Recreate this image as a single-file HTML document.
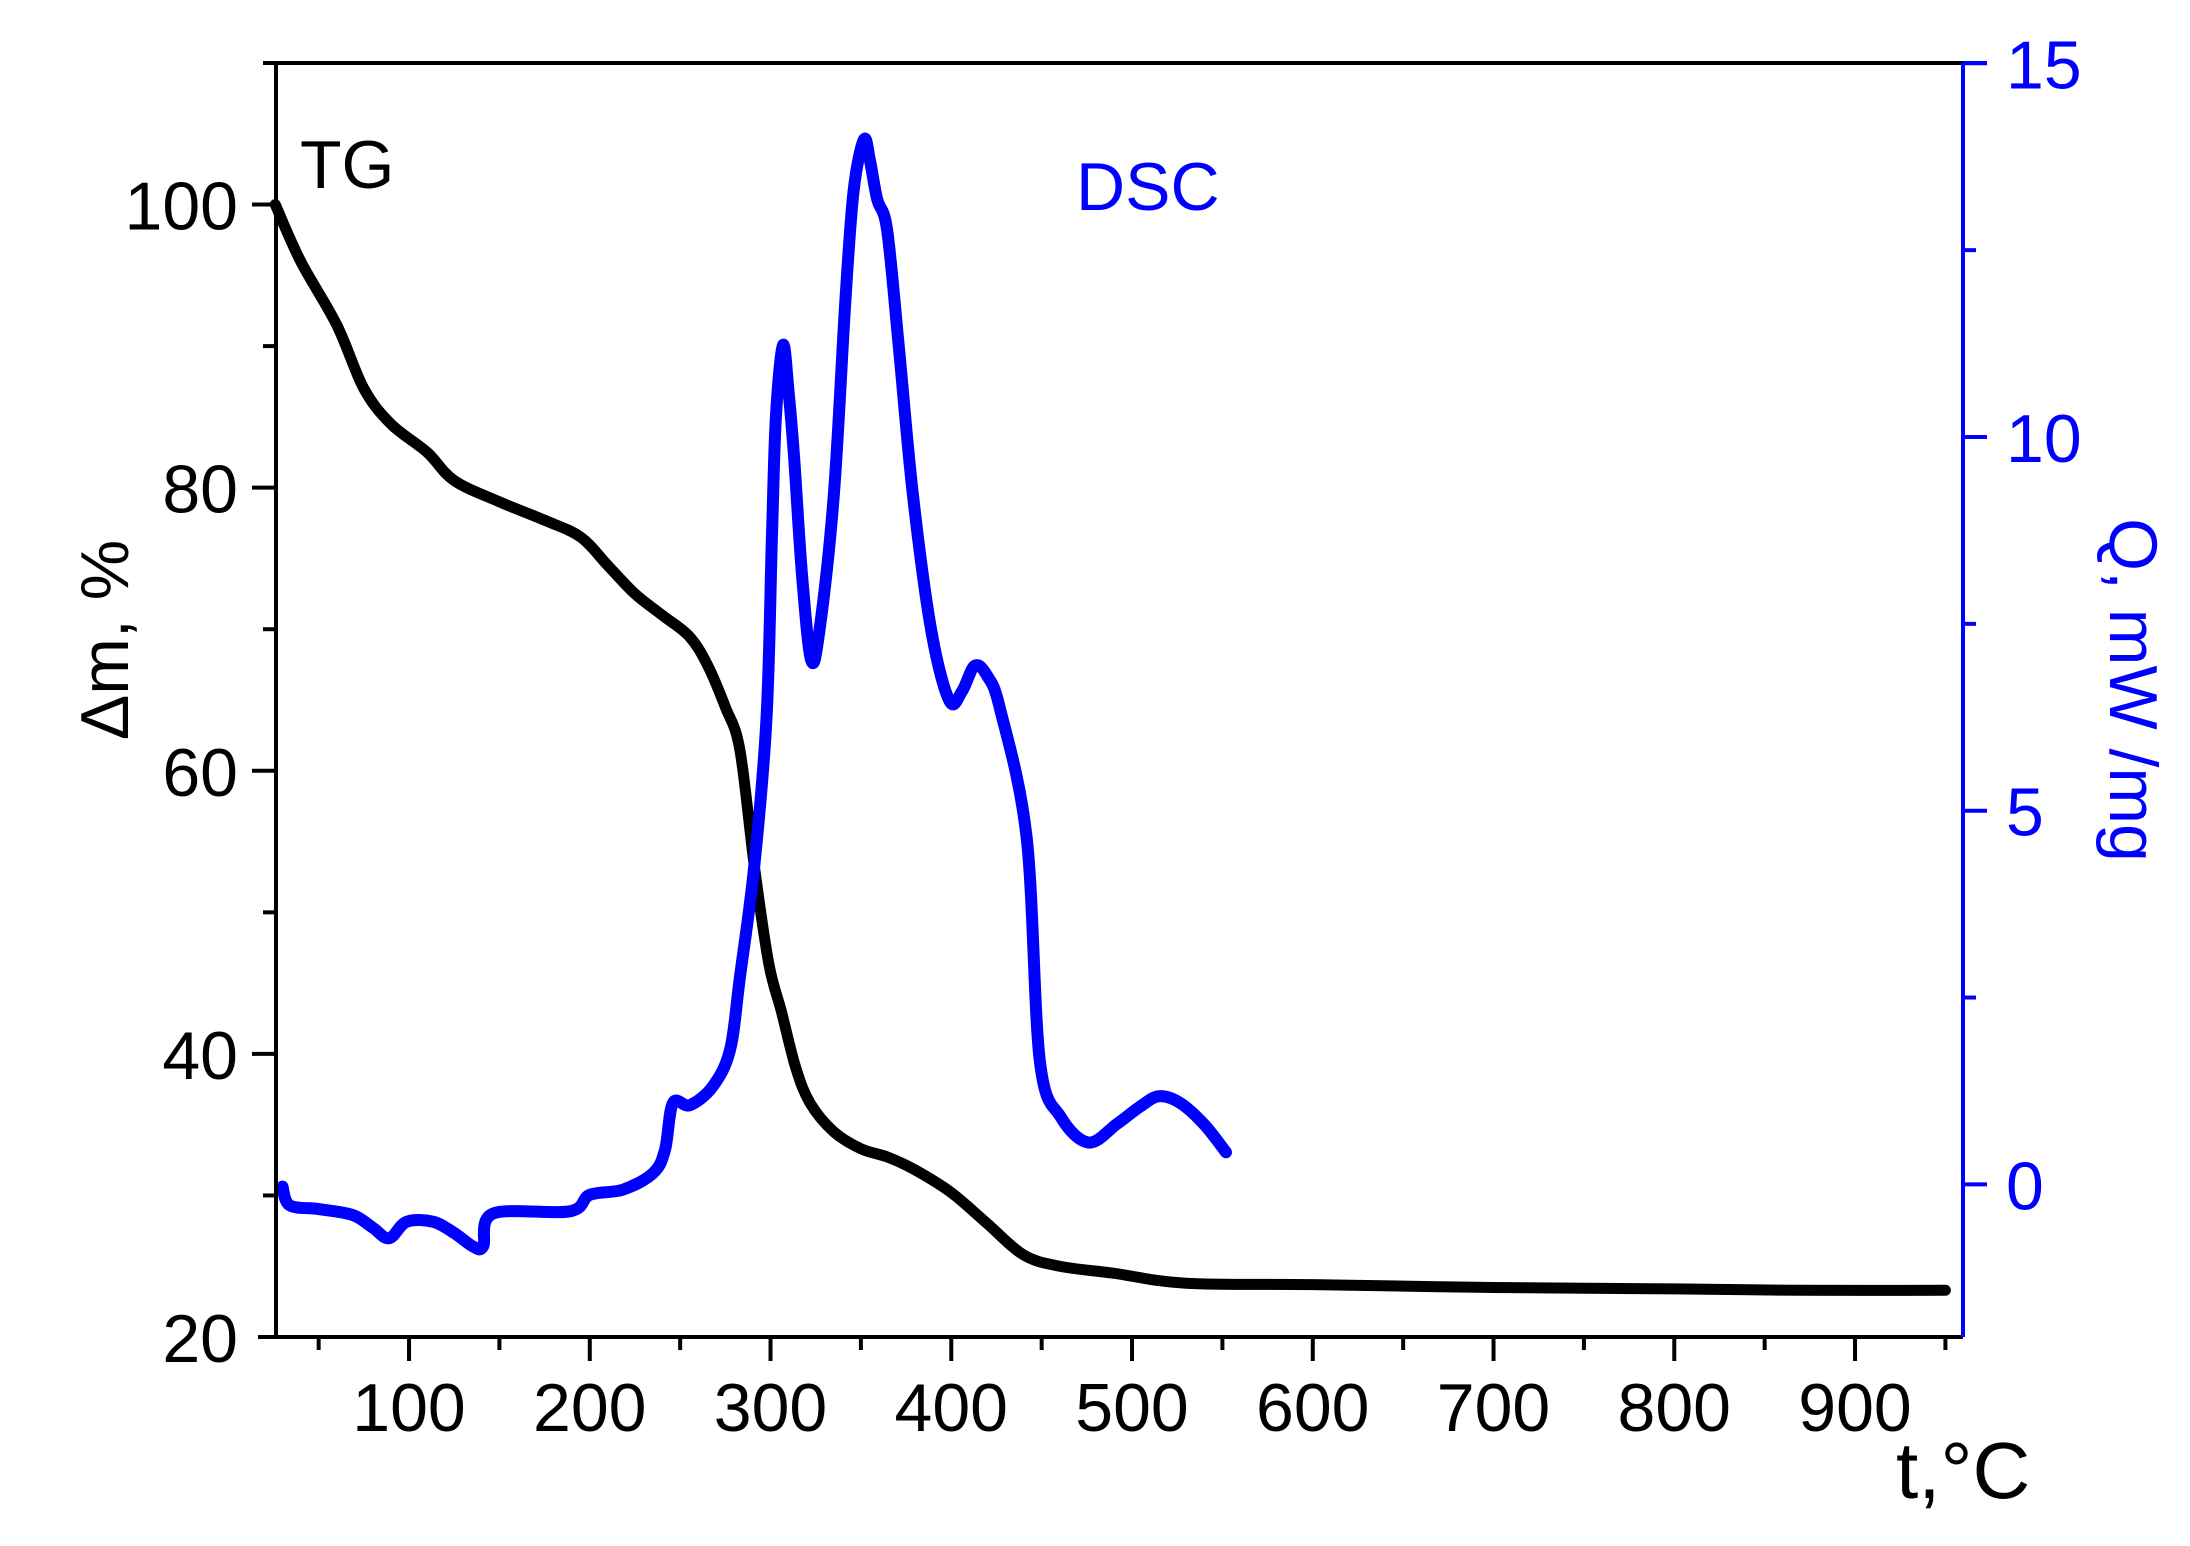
<!DOCTYPE html>
<html><head><meta charset="utf-8"><style>
html,body{margin:0;padding:0;background:#fff;}
svg{display:block;font-family:"Liberation Sans",Arial,sans-serif;}
</style></head><body>
<svg id="chart" width="2190" height="1546" viewBox="0 0 2190 1546" xmlns="http://www.w3.org/2000/svg">
<rect width="2190" height="1546" fill="#fff"/>
<g id="marks"></g>
<g id="axes"></g>
<text x="300" y="188" font-size="68" fill="#000">TG</text>
<text x="1076" y="210" font-size="68" fill="#0000ff">DSC</text>
<text x="1896" y="1498" font-size="80" fill="#000">t,°C</text>
<text transform="translate(128,640) rotate(-90)" text-anchor="middle" font-size="68" fill="#000">Δm, %</text>
<text transform="translate(2110,690) rotate(90)" text-anchor="middle" font-size="68" fill="#0000ff">Q, mW /mg</text>
</svg>
<script>
const xTicks = [100,200,300,400,500,600,700,800,900];
const leftTicks = [20,40,60,80,100];
const rightTicks = [0,5,10,15];
const tgT = [26,40,60,75,90,110,125,150,175,195,210,225,240,255,265,275,283,291,299,306,314,322,335,350,365,380,400,420,440,460,490,530,600,700,800,870,950];
const tgM = [100,96,91.5,87,84.5,82.5,80.5,79,77.7,76.5,74.5,72.5,71,69.5,67.5,64.5,61.5,53.3,46.4,43,39,36.5,34.5,33.3,32.7,31.8,30.2,28,25.8,25,24.5,23.8,23.7,23.5,23.4,23.3,23.3];
const dscT = [30,34,50,68.9,80,89,98.7,113.3,125,135.4,141,146.5,189,200,218.4,235,241.6,246,255.4,268,277.6,283,291,297.8,300.8,303,306.9,310,313,317.4,322.4,327,335,341.5,346,351.7,355,359,364.5,371,378.8,389,399,406,413,420,427,441.7,449,460.6,476,491.7,505,515,526.6,540,552];
const dscQ = [-0.03,-0.28,-0.33,-0.41,-0.58,-0.72,-0.5,-0.5,-0.65,-0.83,-0.83,-0.39,-0.36,-0.14,-0.07,0.15,0.46,1.09,1.06,1.31,1.8,2.76,4.26,6.25,8.69,10.28,11.23,10.6,9.74,8.16,7.02,7.4,9.22,11.86,13.3,13.98,13.7,13.18,12.77,11.2,9.22,7.4,6.47,6.6,6.94,6.8,6.36,4.64,1.65,0.9,0.56,0.81,1.05,1.18,1.09,0.8,0.43];

const L=276,R=1963,T=63,B=1337;
const X=t=>L+(t-26.4)*1.8075;
const YL=v=>B-(v-20)*(B-T)/90;
const YR=q=>1184.4-q*74.74;
const ns="http://www.w3.org/2000/svg";
const marks=document.getElementById('marks'), axes=document.getElementById('axes');
function mk(tag,attrs,parent){const e=document.createElementNS(ns,tag);for(const k in attrs)e.setAttribute(k,attrs[k]);parent.appendChild(e);return e;}
function smooth(pts){let d=`M${pts[0][0]},${pts[0][1]}`;for(let i=0;i<pts.length-1;i++){const p0=pts[i-1]||pts[i],p1=pts[i],p2=pts[i+1],p3=pts[i+2]||p2;const c1=[p1[0]+(p2[0]-p0[0])/6,p1[1]+(p2[1]-p0[1])/6],c2=[p2[0]-(p3[0]-p1[0])/6,p2[1]-(p3[1]-p1[1])/6];d+=` C${c1[0]},${c1[1]} ${c2[0]},${c2[1]} ${p2[0]},${p2[1]}`;}return d;}

const tg=mk('path',{d:smooth(tgT.map((t,i)=>[X(t),YL(tgM[i])])),fill:'none',stroke:'#000','stroke-width':11,'stroke-linejoin':'round','stroke-linecap':'round'},marks);


const dsc=mk('path',{d:smooth(dscT.map((t,i)=>[X(t),YR(dscQ[i])])),fill:'none',stroke:'#0000ff','stroke-width':12,'stroke-linejoin':'round','stroke-linecap':'round'},marks);



mk('line',{x1:L,y1:T,x2:R,y2:T,stroke:'#000','stroke-width':4},axes);
mk('line',{x1:L-18,y1:B,x2:R,y2:B,stroke:'#000','stroke-width':4},axes);
mk('line',{x1:L,y1:T,x2:L,y2:B,stroke:'#000','stroke-width':4},axes);
const ra=mk('line',{x1:R,y1:T,x2:R,y2:B,stroke:'#0000ff','stroke-width':4},axes);


mk('line',{x1:R,y1:T,x2:R+24,y2:T,stroke:'#0000ff','stroke-width':4},axes);

for(let t=50;t<=950;t+=50){const maj=t%100===0;mk('line',{x1:X(t),y1:B,x2:X(t),y2:B+(maj?24:13),stroke:'#000','stroke-width':4},axes);}
xTicks.forEach(t=>{const e=mk('text',{x:X(t),y:1431,'text-anchor':'middle','font-size':68,fill:'#000'},axes);e.textContent=t;

});
for(let v=30;v<=110;v+=10){const maj=v%20===0;mk('line',{x1:L,y1:YL(v),x2:L-(maj?24:13),y2:YL(v),stroke:'#000','stroke-width':4},axes);}
leftTicks.forEach(v=>{const e=mk('text',{x:238,y:YL(v)+25,'text-anchor':'end','font-size':68,fill:'#000'},axes);e.textContent=v;

});
for(let q=0;q<=15;q+=2.5){const maj=q%5===0;mk('line',{x1:R,y1:YR(q),x2:R+(maj?24:13),y2:YR(q),stroke:'#0000ff','stroke-width':4},axes);}
rightTicks.forEach(q=>{const e=mk('text',{x:2006,y:YR(q)+25,'font-size':68,fill:'#0000ff'},axes);e.textContent=q;

});
</script>
</body></html>
